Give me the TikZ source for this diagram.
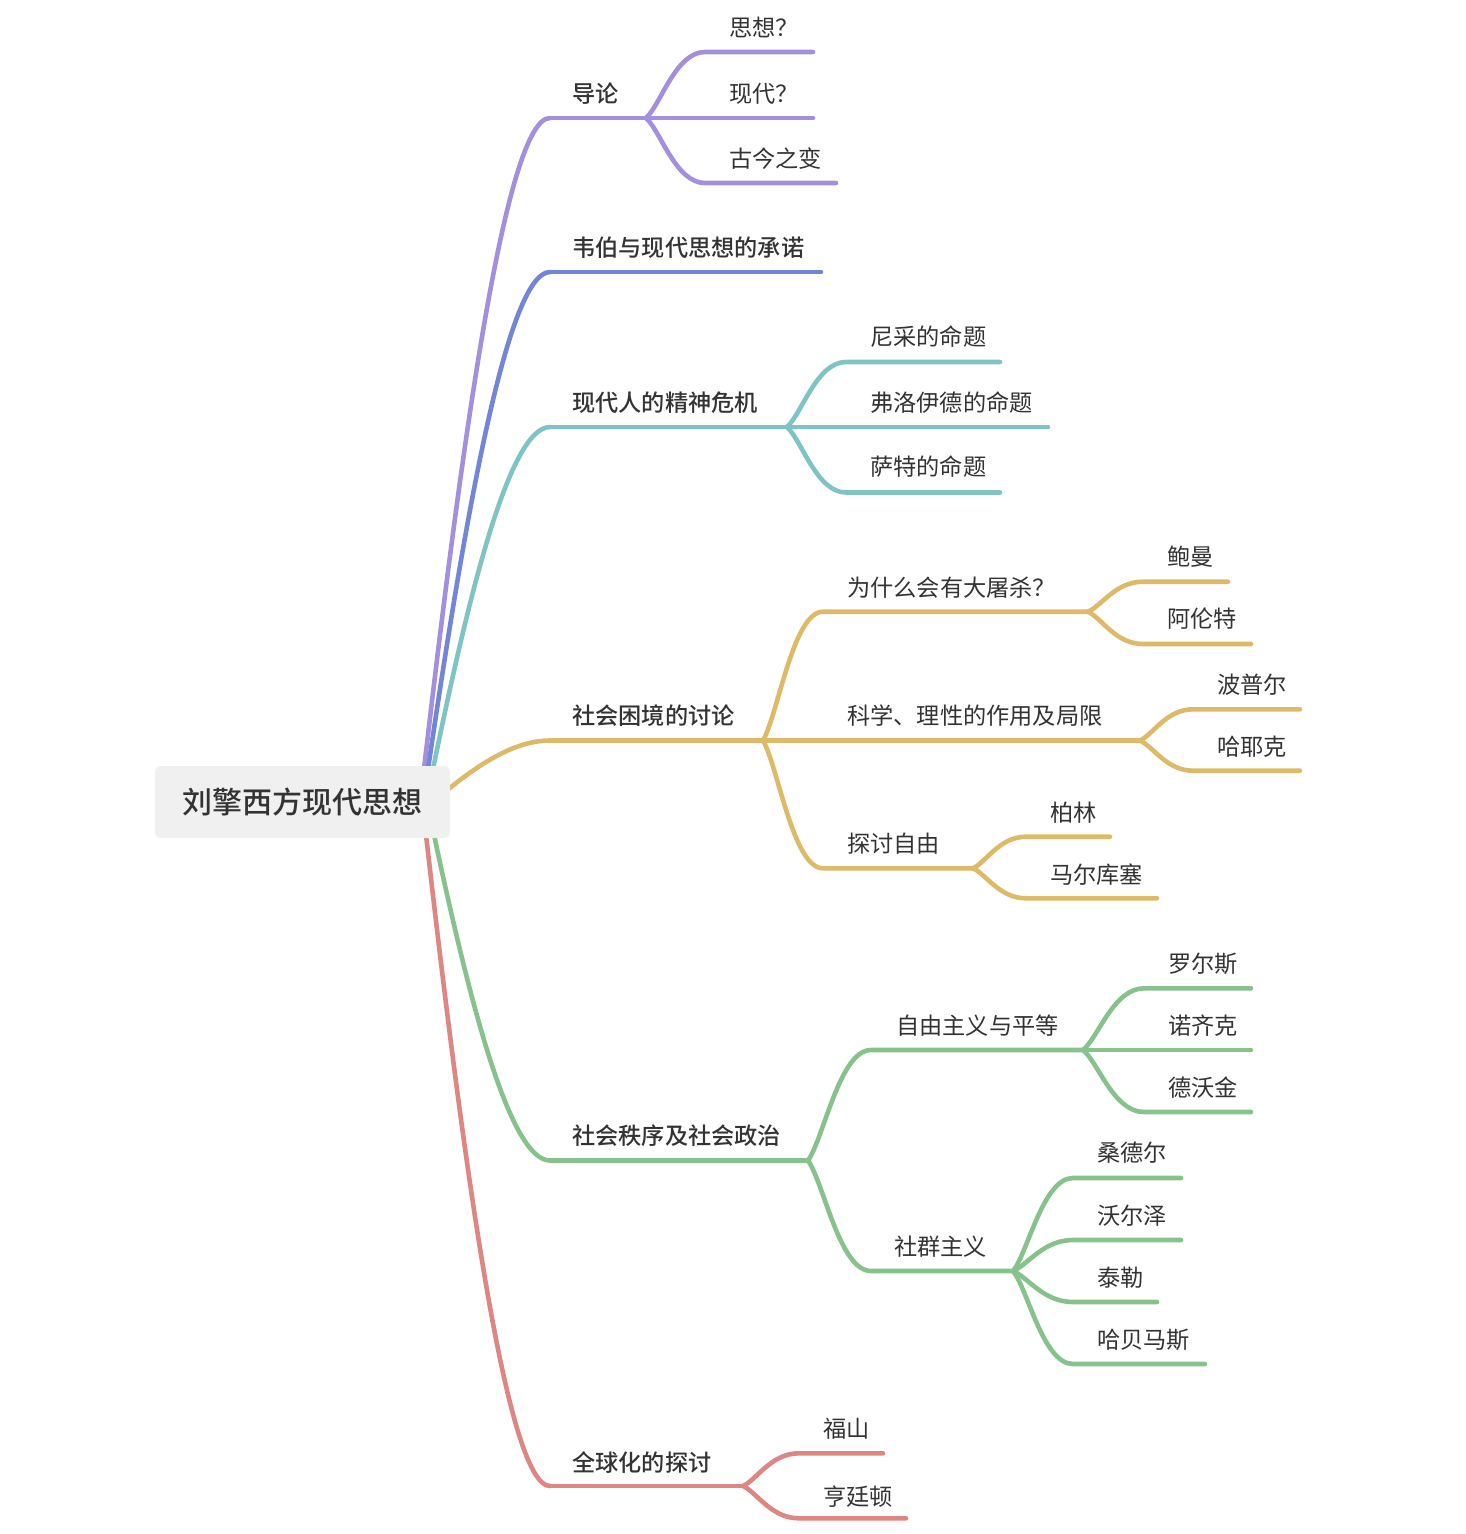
\documentclass[tikz,border=0pt]{standalone}
\usepackage{fontspec}
\setmainfont{Noto Sans CJK SC}[BoldFont={Noto Sans CJK SC Medium}]
\usetikzlibrary{calc,backgrounds}
\definecolor{cpur}{HTML}{A38FDD}
\definecolor{cblu}{HTML}{7286D8}
\definecolor{ctea}{HTML}{7EC4C4}
\definecolor{cgol}{HTML}{DEBA68}
\definecolor{cgrn}{HTML}{86C28C}
\definecolor{cred}{HTML}{DE8682}
\definecolor{ctxt}{HTML}{333333}
\definecolor{crootbg}{HTML}{EFF0EF}
\newcommand\rootcurve[3]{\draw[br,#1] let \p1=(#2),\p2=(#3) in (#2) .. controls ({\x1+0.3*(\x2-\x1)},{\y1+0.5*(\y2-\y1)}) and ({\x2-0.35*(\x2-\x1)},\y2) .. (#3);}
\newcommand\forkcurve[4]{\draw[br,#1] let \p1=(#2),\p2=(#3) in (#2) .. controls ({\x1+0.25*(\x2-\x1)},{\y1+0.2*(\y2-\y1)}) and ({\x1+0.5*(\x2-\x1)},\y2) .. (#3) -- (#4);}
\begin{document}
\begin{tikzpicture}[x=1pt,y=-1pt,
  br/.style={line width=4.6pt, line cap=round},
  lbl/.style={anchor=west, inner sep=0pt, text=ctxt, font=\fontsize{23.2}{28}\selectfont, text height=20.4pt, text depth=2.8pt},
  lbla/.style={lbl, font=\fontsize{23.2}{28}\selectfont\bfseries},
  rootbox/.style={fill=crootbg, rounded corners=5pt, inner sep=0pt, minimum width=295pt, minimum height=72pt, text=ctxt, font=\fontsize{30}{36}\selectfont\bfseries, text height=26.4pt, text depth=3.6pt}
]
\useasboundingbox (0,0) rectangle (1466,1534);
\node[rootbox] (root) at (302.5,802) {刘擎西方现代思想};
% start points of main branches (under the root box)
\coordinate (rp) at (424,769);
\coordinate (rb) at (428,769);
\coordinate (rt) at (433,769);
\coordinate (rg) at (446,791);
\coordinate (rn) at (434,835);
\coordinate (rr) at (426,835);

% ---------- labels ----------
\node[lbla] (a) at (572,94) {导论};
\node[lbl] (a1) at (729,28) {思想？};
\node[lbl] (a2) at (729,94) {现代？};
\node[lbl] (a3) at (729,159) {古今之变};

\node[lbla] (b) at (572,248) {韦伯与现代思想的承诺};

\node[lbla] (c) at (572,403) {现代人的精神危机};
\node[lbl] (c1) at (870,337) {尼采的命题};
\node[lbl] (c2) at (870,403) {弗洛伊德的命题};
\node[lbl] (c3) at (870,467) {萨特的命题};

\node[lbla] (d) at (572,716) {社会困境的讨论};
\node[lbl] (d1) at (847,588) {为什么会有大屠杀？};
\node[lbl] (d11) at (1167,557) {鲍曼};
\node[lbl] (d12) at (1167,619) {阿伦特};
\node[lbl] (d2) at (847,716) {科学、理性的作用及局限};
\node[lbl] (d21) at (1217,685) {波普尔};
\node[lbl] (d22) at (1217,747) {哈耶克};
\node[lbl] (d3) at (847,844) {探讨自由};
\node[lbl] (d31) at (1050,813) {柏林};
\node[lbl] (d32) at (1050,875) {马尔库塞};

\node[lbla] (e) at (572,1136) {社会秩序及社会政治};
\node[lbl] (e1) at (896,1026) {自由主义与平等};
\node[lbl] (e11) at (1168,964) {罗尔斯};
\node[lbl] (e12) at (1168,1026) {诺齐克};
\node[lbl] (e13) at (1168,1088) {德沃金};
\node[lbl] (e2) at (894,1247) {社群主义};
\node[lbl] (e21) at (1097,1153) {桑德尔};
\node[lbl] (e22) at (1097,1216) {沃尔泽};
\node[lbl] (e23) at (1097,1278) {泰勒};
\node[lbl] (e24) at (1097,1340) {哈贝马斯};

\node[lbla] (f) at (572,1463) {全球化的探讨};
\node[lbl] (f1) at (823,1429) {福山};
\node[lbl] (f2) at (823,1497) {亨廷顿};

% ---------- underline coordinates ----------
\coordinate (as) at (550,118); \coordinate (af) at (646,118);
\coordinate (a1s) at (705,52); \coordinate (a1e) at (813,52);
\coordinate (a2e) at (813,118);
\coordinate (a3s) at (705,183); \coordinate (a3e) at (836,183);

\coordinate (bs) at (550,272); \coordinate (be) at (821,272);

\coordinate (cs) at (550,427); \coordinate (cf) at (787,427);
\coordinate (c1s) at (846,362); \coordinate (c1e) at (1000,362);
\coordinate (c2e) at (1048,427);
\coordinate (c3s) at (846,492.5); \coordinate (c3e) at (1000,492.5);

\coordinate (ds) at (550,740.5); \coordinate (df) at (763,740.5);
\coordinate (d1s) at (823,611.7); \coordinate (d1f) at (1088,611.7);
\coordinate (d11s) at (1143,581.7); \coordinate (d11e) at (1228,581.7);
\coordinate (d12s) at (1143,644); \coordinate (d12e) at (1251,644);
\coordinate (d2f) at (1140,740.5);
\coordinate (d21s) at (1193,709.3); \coordinate (d21e) at (1300,709.3);
\coordinate (d22s) at (1193,770.7); \coordinate (d22e) at (1300,770.7);
\coordinate (d3s) at (823,868.3); \coordinate (d3f) at (973,868.3);
\coordinate (d31s) at (1026,836.7); \coordinate (d31e) at (1110,836.7);
\coordinate (d32s) at (1026,898.3); \coordinate (d32e) at (1157,898.3);

\coordinate (es) at (550,1160.5); \coordinate (ef) at (808,1160.5);
\coordinate (e1s) at (871,1050); \coordinate (e1f) at (1083,1050);
\coordinate (e11s) at (1144,988.3); \coordinate (e11e) at (1251,988.3);
\coordinate (e12e) at (1251,1050);
\coordinate (e13s) at (1144,1112); \coordinate (e13e) at (1251,1112);
\coordinate (e2s) at (871,1271); \coordinate (e2f) at (1013,1271);
\coordinate (e21s) at (1073,1178); \coordinate (e21e) at (1181,1178);
\coordinate (e22s) at (1073,1240); \coordinate (e22e) at (1181,1240);
\coordinate (e23s) at (1073,1302); \coordinate (e23e) at (1157,1302);
\coordinate (e24s) at (1073,1364); \coordinate (e24e) at (1205,1364);

\coordinate (fs) at (550,1486); \coordinate (ff) at (743,1486);
\coordinate (f1s) at (799,1453.3); \coordinate (f1e) at (883,1453.3);
\coordinate (f2s) at (799,1518.3); \coordinate (f2e) at (906,1518.3);

\begin{scope}[on background layer]
% main branches
\rootcurve{cpur}{rp}{as}
\rootcurve{cblu}{rb}{bs}
\rootcurve{ctea}{rt}{cs}
\rootcurve{cgol}{rg}{ds}
\rootcurve{cgrn}{rn}{es}
\rootcurve{cred}{rr}{fs}
\end{scope}

% 导论
\draw[br,cpur] (as) -- (af);
\forkcurve{cpur}{af}{a1s}{a1e}
\draw[br,cpur] (af) -- (a2e);
\forkcurve{cpur}{af}{a3s}{a3e}
% 韦伯
\draw[br,cblu] (bs) -- (be);
% 现代人的精神危机
\draw[br,ctea] (cs) -- (cf);
\forkcurve{ctea}{cf}{c1s}{c1e}
\draw[br,ctea] (cf) -- (c2e);
\forkcurve{ctea}{cf}{c3s}{c3e}
% 社会困境的讨论
\draw[br,cgol] (ds) -- (df);
\forkcurve{cgol}{df}{d1s}{d1f}
\forkcurve{cgol}{d1f}{d11s}{d11e}
\forkcurve{cgol}{d1f}{d12s}{d12e}
\draw[br,cgol] (df) -- (d2f);
\forkcurve{cgol}{d2f}{d21s}{d21e}
\forkcurve{cgol}{d2f}{d22s}{d22e}
\forkcurve{cgol}{df}{d3s}{d3f}
\forkcurve{cgol}{d3f}{d31s}{d31e}
\forkcurve{cgol}{d3f}{d32s}{d32e}
% 社会秩序及社会政治
\draw[br,cgrn] (es) -- (ef);
\forkcurve{cgrn}{ef}{e1s}{e1f}
\forkcurve{cgrn}{e1f}{e11s}{e11e}
\draw[br,cgrn] (e1f) -- (e12e);
\forkcurve{cgrn}{e1f}{e13s}{e13e}
\forkcurve{cgrn}{ef}{e2s}{e2f}
\forkcurve{cgrn}{e2f}{e21s}{e21e}
\forkcurve{cgrn}{e2f}{e22s}{e22e}
\forkcurve{cgrn}{e2f}{e23s}{e23e}
\forkcurve{cgrn}{e2f}{e24s}{e24e}
% 全球化的探讨
\draw[br,cred] (fs) -- (ff);
\forkcurve{cred}{ff}{f1s}{f1e}
\forkcurve{cred}{ff}{f2s}{f2e}
\end{tikzpicture}
\end{document}
